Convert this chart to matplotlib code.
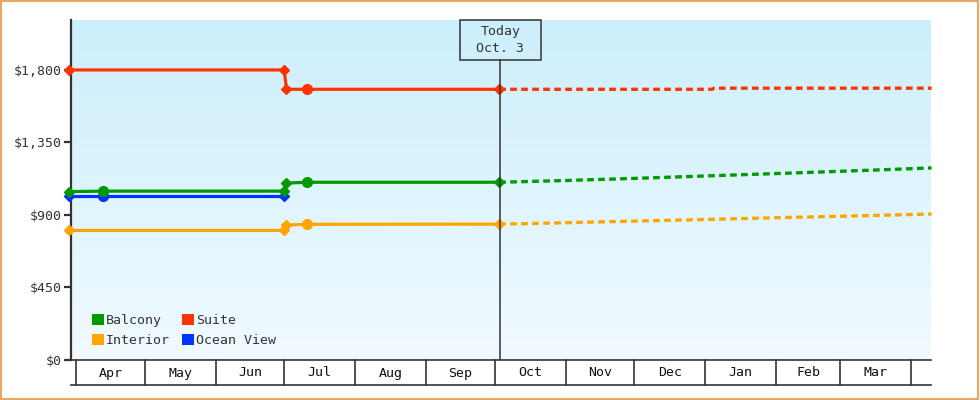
from datetime import datetime

import matplotlib
matplotlib.use("Agg")
import matplotlib.dates as mdates
import matplotlib.pyplot as plt
import numpy as np
from matplotlib.patches import Patch, Rectangle

plt.rcParams["font.family"] = ["DejaVu Sans Mono"]

# --- data -------------------------------------------------------------
suite_dates = ["2024-03-29", "2024-07-01", "2024-07-02", "2024-07-11", "2024-10-03"]
suite_prices = [1800, 1800, 1680, 1680, 1680]
suite_fc_dates = ["2024-10-03", "2025-01-04", "2025-01-05", "2025-04-10"]
suite_fc_prices = [1680, 1680, 1687, 1687]

balcony_dates = ["2024-03-29", "2024-04-13", "2024-07-01", "2024-07-02", "2024-07-11", "2024-10-03"]
balcony_prices = [1045, 1048, 1048, 1098, 1103, 1103]
balcony_fc_dates = ["2024-10-03", "2024-11-01", "2024-12-01", "2025-01-01", "2025-02-01", "2025-03-01", "2025-04-10"]
balcony_fc_prices = [1103, 1114, 1127, 1142, 1157, 1171, 1192]

ocean_dates = ["2024-03-29", "2024-04-13", "2024-07-01"]
ocean_prices = [1015, 1015, 1015]

interior_dates = ["2024-03-29", "2024-07-01", "2024-07-02", "2024-07-11", "2024-10-03"]
interior_prices = [804, 804, 838, 842, 843]
interior_fc_dates = ["2024-10-03", "2024-11-01", "2024-12-01", "2025-01-01", "2025-02-01", "2025-03-01", "2025-04-10"]
interior_fc_prices = [843, 852, 862, 872, 883, 892, 906]

circle_dates = ["2024-04-13", "2024-07-11"]  # observed points drawn as dots

today = "2024-10-03"
today_label = "Today\nOct. 3"
y_ticks = [0, 450, 900, 1350, 1800]
months = ["Apr", "May", "Jun", "Jul", "Aug", "Sep", "Oct", "Nov", "Dec", "Jan", "Feb", "Mar"]
month_starts = ["2024-04-01", "2024-05-01", "2024-06-01", "2024-07-01", "2024-08-01", "2024-09-01",
                "2024-10-01", "2024-11-01", "2024-12-01", "2025-01-01", "2025-02-01", "2025-03-01",
                "2025-04-01"]

colors = {"Balcony": "#009900", "Suite": "#FF3300", "Interior": "#FFA500", "Ocean View": "#0033FF"}


def d(s):
    return mdates.date2num(datetime.strptime(s, "%Y-%m-%d"))


# --- figure -----------------------------------------------------------
fig = plt.figure(figsize=(9.8, 4.0), dpi=100)
ax = fig.add_axes([71 / 980, 40 / 400, 860 / 980, 340 / 400])

px_per_day = 835 / 365
x0 = d("2024-04-01") - 5 / px_per_day
x1 = d("2025-04-01") + 20 / px_per_day
ax.set_xlim(x0, x1)
ax.set_ylim(0, 2110)

# gradient background
grad = np.linspace(0, 1, 256).reshape(256, 1, 1)
top = np.array([204, 239, 252]) / 255
bot = np.array([241, 250, 255]) / 255
img = top + (bot - top) * grad
ax.imshow(img, extent=[x0, x1, 0, 2110], aspect="auto", origin="upper", zorder=0)

series = [
    ("Suite", suite_dates, suite_prices, suite_fc_dates, suite_fc_prices),
    ("Balcony", balcony_dates, balcony_prices, balcony_fc_dates, balcony_fc_prices),
    ("Ocean View", ocean_dates, ocean_prices, None, None),
    ("Interior", interior_dates, interior_prices, interior_fc_dates, interior_fc_prices),
]
for name, ds, ps, fds, fps in reversed(series):
    c = colors[name]
    xs = [d(s) for s in ds]
    ax.plot(xs, ps, color=c, lw=2.3, zorder=3, clip_on=False, solid_capstyle="butt")
    if fds:
        ax.plot([d(s) for s in fds], fps, color=c, lw=2.4, zorder=3,
                dashes=(2.0, 1.3), clip_on=False)
    for s, p in zip(ds, ps):
        if s in circle_dates:
            ax.plot(d(s), p, "o", color=c, ms=7, zorder=4, clip_on=False)
        else:
            ax.plot(d(s), p, "D", color=c, ms=5.5, zorder=4, clip_on=False)

# today line and label box
tx = d(today) + 0.5
ax.plot([tx, tx], [0, 2110 * (300 / 340)], color="#333333", lw=1.1, zorder=5)
box_w = 81 / px_per_day
trans = matplotlib.transforms.blended_transform_factory(ax.transData, ax.transAxes)
ax.add_patch(Rectangle((tx - box_w / 2, 300 / 340), box_w, 40 / 340, transform=trans,
                       fill=False, edgecolor="#333333", lw=1.1, zorder=5, clip_on=False))
ax.text(tx, 320 / 340, today_label, transform=trans, ha="center", va="center",
        fontsize=9.5, color="#333333", linespacing=1.45, zorder=6)

# axes styling
for sp in ["top", "right"]:
    ax.spines[sp].set_visible(False)
ax.spines["left"].set_color("#333333")
ax.spines["left"].set_linewidth(1.6)
ax.spines["bottom"].set_color("#333333")
ax.spines["bottom"].set_linewidth(1.2)
ax.set_yticks(y_ticks)
ax.set_yticklabels(["${:,}".format(v) for v in y_ticks])
ax.tick_params(axis="y", length=5, width=1.6, color="#333333", labelsize=9.5,
               labelcolor="#333333", pad=2)
ax.set_xticks([])

# month band
band = fig.add_axes([71 / 980, 15 / 400, 860 / 980, 25 / 400])
band.set_xlim(x0, x1)
band.set_ylim(0, 1)
band.axis("off")
band.plot([x0, x1], [0, 0], color="#333333", lw=1.2, clip_on=False)
ms = [d(s) for s in month_starts]
for m in ms:
    band.plot([m, m], [0, 1], color="#333333", lw=1.2, clip_on=False)
for i, lab in enumerate(months):
    band.text((ms[i] + ms[i + 1]) / 2, 0.48, lab, ha="center", va="center",
              fontsize=9.5, color="#111111")

# legend
names = ["Balcony", "Interior", "Suite", "Ocean View"]
handles = [Patch(facecolor=colors[n], edgecolor="none") for n in names]
ax.legend(handles, names, ncol=2, loc="lower left",
          bbox_to_anchor=(0.011, 0.003), frameon=False, fontsize=9.5, handlelength=0.9,
          handleheight=0.9, handletextpad=0.15, columnspacing=0.9, labelspacing=0.55,
          labelcolor="#333333")

# outer border
fig.patches.append(Rectangle((0.001, 0.002), 0.997, 0.996, transform=fig.transFigure,
                             fill=False, edgecolor="#E8A862", lw=1.5))

fig.savefig("out.png", dpi=100)
